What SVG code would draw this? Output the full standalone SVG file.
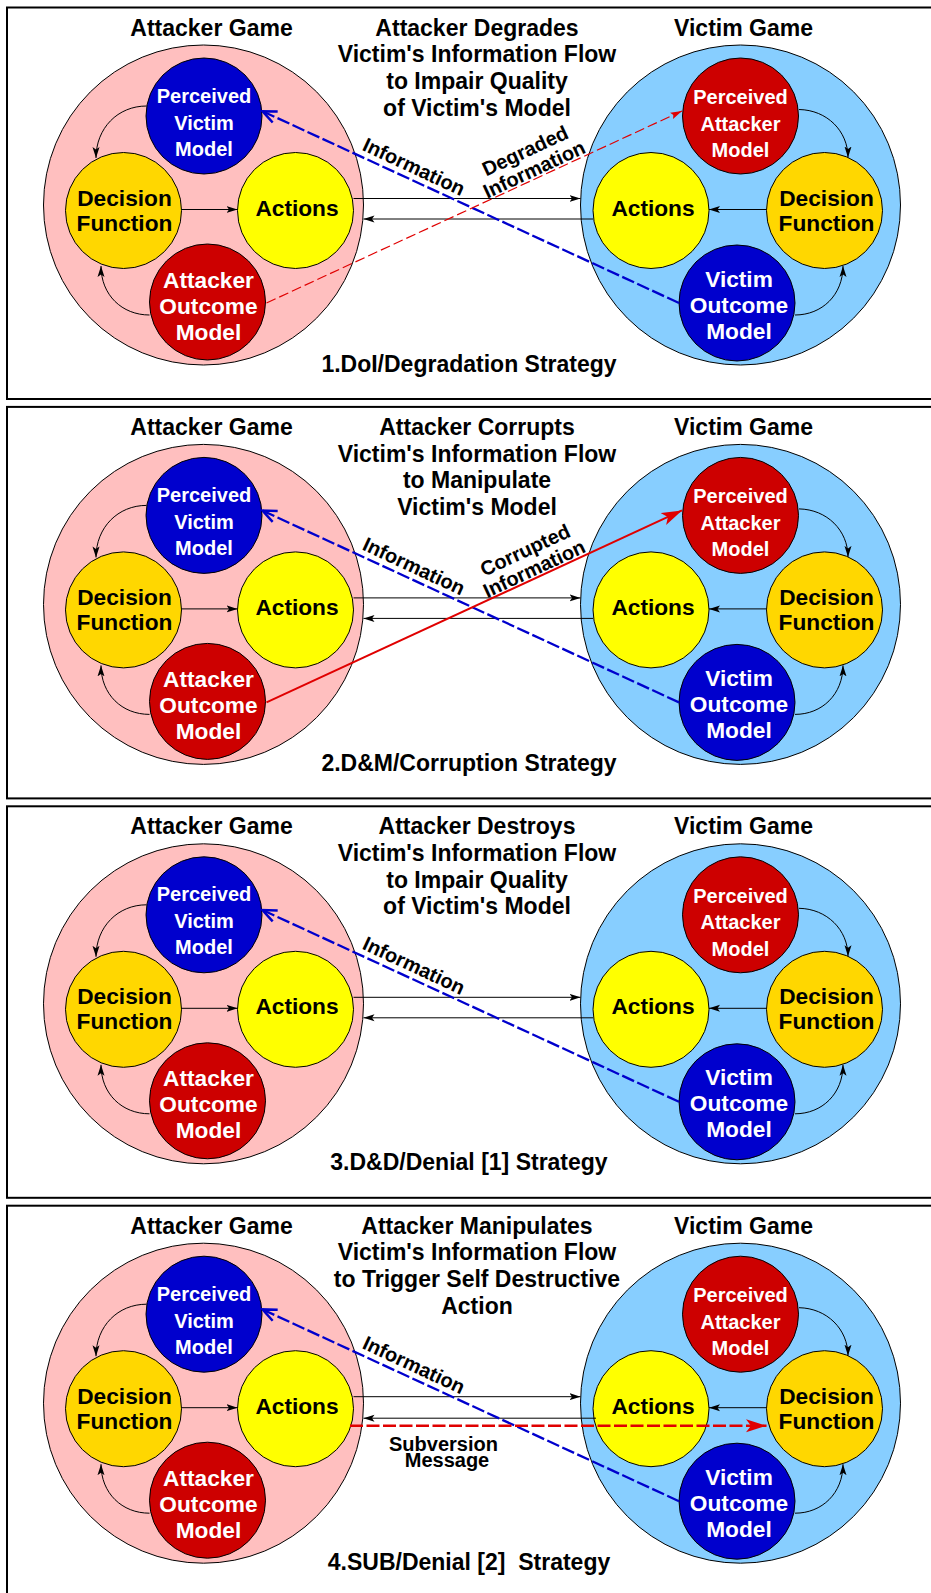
<svg xmlns="http://www.w3.org/2000/svg" width="931" height="1593" viewBox="0 0 931 1593">
<defs>
<style>
.frame{fill:none;stroke:#000;stroke-width:2}
.bigA{fill:#FFBFBF;stroke:#000;stroke-width:1}
.bigV{fill:#87CEFF;stroke:#000;stroke-width:1}
.blue{fill:#0000CD;stroke:#000;stroke-width:1}
.red{fill:#CD0000;stroke:#000;stroke-width:1}
.gold{fill:#FFD700;stroke:#000;stroke-width:1}
.yel{fill:#FFFF00;stroke:#000;stroke-width:1}
text{font-family:"Liberation Sans",Arial,Helvetica,sans-serif;font-weight:bold;text-anchor:middle;fill:#000}
.h{font-size:23px}
.n23{font-size:22.7px}
.n20{font-size:20px}
.w{fill:#fff}
.lab{font-size:20px}
.ar{fill:none;stroke:#000;stroke-width:1}
.info{fill:none;stroke:#0000CD;stroke-width:2.3;stroke-dasharray:13 3.5}
.deg{fill:none;stroke:#E00000;stroke-width:1.2;stroke-dasharray:10 4}
.cor{fill:none;stroke:#E00000;stroke-width:2}
.sub{fill:none;stroke:#E00000;stroke-width:2.5;stroke-dasharray:13 3.5}
</style>
<marker id="ahK" markerUnits="userSpaceOnUse" viewBox="0 0 12 8" markerWidth="12" markerHeight="8" refX="11" refY="4" orient="auto"><path d="M0,0.5 L11,4 L0,7.5 L2.5,4 z" fill="#000"/></marker>
<marker id="ahB" markerUnits="userSpaceOnUse" viewBox="-1 -1 19 16" markerWidth="19" markerHeight="16" refX="15.5" refY="7" orient="auto"><path d="M1,1 L15,7 L1,13" fill="none" stroke="#0000CD" stroke-width="2.5"/></marker>
<marker id="ahRs" markerUnits="userSpaceOnUse" viewBox="0 0 12 8" markerWidth="12" markerHeight="8" refX="11.5" refY="4" orient="auto"><path d="M0,0.5 L11.5,4 L0,7.5 L2,4 z" fill="#E00000"/></marker>
<marker id="ahRb" markerUnits="userSpaceOnUse" viewBox="0 0 21 14" markerWidth="21" markerHeight="14" refX="20.5" refY="7" orient="auto"><path d="M0,0.5 L20.5,7 L0,13.5 L5,7 z" fill="#E00000"/></marker>
</defs>

<!-- PANEL 1 -->
<g id="panel1">
<rect class="frame" x="7" y="7.5" width="930" height="391.5"/>
<g id="p1-title"><text class="h"><tspan x="477" y="35.5">Attacker Degrades</tspan><tspan x="477" y="62.3">Victim's Information Flow</tspan><tspan x="477" y="89">to Impair Quality</tspan><tspan x="477" y="115.7">of Victim's Model</tspan></text></g>
<g id="p1-attacker-game"><circle class="bigA" cx="203.5" cy="205" r="160"/><text class="h" x="211.5" y="35.5">Attacker Game</text></g>
<g id="p1-victim-game"><circle class="bigV" cx="740.5" cy="205" r="160"/><text class="h" x="743.5" y="35.5">Victim Game</text></g>
<g id="p1-perceived-victim-model"><circle class="blue" cx="204" cy="116" r="58"/><text class="n20 w"><tspan x="204" y="102.7">Perceived</tspan><tspan x="204" y="129.7">Victim</tspan><tspan x="204" y="155.5">Model</tspan></text></g>
<g id="p1-attacker-decision"><circle class="gold" cx="123.5" cy="210.5" r="58"/><text class="n23"><tspan x="124.5" y="205.7">Decision</tspan><tspan x="124.5" y="230.7">Function</tspan></text></g>
<g id="p1-attacker-actions"><circle class="yel" cx="295.5" cy="210.5" r="58"/><text class="n23" x="297" y="215.7">Actions</text></g>
<g id="p1-attacker-outcome-model"><circle class="red" cx="207.5" cy="302" r="58"/><text class="n23 w"><tspan x="208.5" y="287.5">Attacker</tspan><tspan x="208.5" y="313.5">Outcome</tspan><tspan x="208.5" y="339.5">Model</tspan></text></g>
<g id="p1-perceived-attacker-model"><circle class="red" cx="740.5" cy="116" r="58"/><text class="n20 w"><tspan x="740.5" y="104">Perceived</tspan><tspan x="740.5" y="130.5">Attacker</tspan><tspan x="740.5" y="157">Model</tspan></text></g>
<g id="p1-victim-actions"><circle class="yel" cx="651" cy="210.5" r="58"/><text class="n23" x="653" y="215.5">Actions</text></g>
<g id="p1-victim-decision"><circle class="gold" cx="824.5" cy="210.5" r="58"/><text class="n23"><tspan x="826.5" y="205.5">Decision</tspan><tspan x="826.5" y="230.7">Function</tspan></text></g>
<g id="p1-victim-outcome-model"><circle class="blue" cx="737" cy="303" r="58"/><text class="n23 w"><tspan x="739" y="286.5">Victim</tspan><tspan x="739" y="312.7">Outcome</tspan><tspan x="739" y="338.5">Model</tspan></text></g>
<g id="p1-connectors">
<path class="ar" d="M181.5,209.5 L237.5,209.5" marker-end="url(#ahK)"/>
<path class="ar" d="M146.5,106 C118,106 96,128 96,158" marker-end="url(#ahK)"/>
<path class="ar" d="M149.5,315 C122,315 101,295 101,266" marker-end="url(#ahK)"/>
<path class="ar" d="M766.5,209.5 L709,209.5" marker-end="url(#ahK)"/>
<path class="ar" d="M799,109.5 C827,110 848,131 848,157.5" marker-end="url(#ahK)"/>
<path class="ar" d="M795,315 C822,315 843,295 843,266" marker-end="url(#ahK)"/>
<path class="ar" d="M353.5,198.5 L580.5,198.5" marker-end="url(#ahK)"/>
<path class="ar" d="M593,219 L363.5,219" marker-end="url(#ahK)"/>
<path class="info" d="M679,303 L262,111" marker-end="url(#ahB)"/>
<path class="deg" d="M266.5,303 L682,111" marker-end="url(#ahRs)"/>
<text class="lab" transform="translate(411,173) rotate(25)">Information</text>
<text class="lab" transform="translate(528,157) rotate(-25)">Degraded</text>
<text class="lab" transform="translate(537,175.5) rotate(-25)">Information</text>
</g>
<g id="p1-caption"><text class="h" x="469" y="371.7">1.DoI/Degradation Strategy</text></g>
</g>

<!-- PANEL 2 -->
<g id="panel2" transform="translate(0,399.4)">
<rect class="frame" x="7" y="7.5" width="930" height="391.5"/>
<g id="p2-title"><text class="h"><tspan x="477" y="35.5">Attacker Corrupts</tspan><tspan x="477" y="62.3">Victim's Information Flow</tspan><tspan x="477" y="89">to Manipulate</tspan><tspan x="477" y="115.7">Victim's Model</tspan></text></g>
<g id="p2-attacker-game"><circle class="bigA" cx="203.5" cy="205" r="160"/><text class="h" x="211.5" y="35.5">Attacker Game</text></g>
<g id="p2-victim-game"><circle class="bigV" cx="740.5" cy="205" r="160"/><text class="h" x="743.5" y="35.5">Victim Game</text></g>
<g id="p2-perceived-victim-model"><circle class="blue" cx="204" cy="116" r="58"/><text class="n20 w"><tspan x="204" y="102.7">Perceived</tspan><tspan x="204" y="129.7">Victim</tspan><tspan x="204" y="155.5">Model</tspan></text></g>
<g id="p2-attacker-decision"><circle class="gold" cx="123.5" cy="210.5" r="58"/><text class="n23"><tspan x="124.5" y="205.7">Decision</tspan><tspan x="124.5" y="230.7">Function</tspan></text></g>
<g id="p2-attacker-actions"><circle class="yel" cx="295.5" cy="210.5" r="58"/><text class="n23" x="297" y="215.7">Actions</text></g>
<g id="p2-attacker-outcome-model"><circle class="red" cx="207.5" cy="302" r="58"/><text class="n23 w"><tspan x="208.5" y="287.5">Attacker</tspan><tspan x="208.5" y="313.5">Outcome</tspan><tspan x="208.5" y="339.5">Model</tspan></text></g>
<g id="p2-perceived-attacker-model"><circle class="red" cx="740.5" cy="116" r="58"/><text class="n20 w"><tspan x="740.5" y="104">Perceived</tspan><tspan x="740.5" y="130.5">Attacker</tspan><tspan x="740.5" y="157">Model</tspan></text></g>
<g id="p2-victim-actions"><circle class="yel" cx="651" cy="210.5" r="58"/><text class="n23" x="653" y="215.5">Actions</text></g>
<g id="p2-victim-decision"><circle class="gold" cx="824.5" cy="210.5" r="58"/><text class="n23"><tspan x="826.5" y="205.5">Decision</tspan><tspan x="826.5" y="230.7">Function</tspan></text></g>
<g id="p2-victim-outcome-model"><circle class="blue" cx="737" cy="303" r="58"/><text class="n23 w"><tspan x="739" y="286.5">Victim</tspan><tspan x="739" y="312.7">Outcome</tspan><tspan x="739" y="338.5">Model</tspan></text></g>
<g id="p2-connectors">
<path class="ar" d="M181.5,209.5 L237.5,209.5" marker-end="url(#ahK)"/>
<path class="ar" d="M146.5,106 C118,106 96,128 96,158" marker-end="url(#ahK)"/>
<path class="ar" d="M149.5,315 C122,315 101,295 101,266" marker-end="url(#ahK)"/>
<path class="ar" d="M766.5,209.5 L709,209.5" marker-end="url(#ahK)"/>
<path class="ar" d="M799,109.5 C827,110 848,131 848,157.5" marker-end="url(#ahK)"/>
<path class="ar" d="M795,315 C822,315 843,295 843,266" marker-end="url(#ahK)"/>
<path class="ar" d="M353.5,198.5 L580.5,198.5" marker-end="url(#ahK)"/>
<path class="ar" d="M593,219 L363.5,219" marker-end="url(#ahK)"/>
<path class="info" d="M679,303 L262,111" marker-end="url(#ahB)"/>
<path class="cor" d="M266.5,303 L682,111" marker-end="url(#ahRb)"/>
<text class="lab" transform="translate(411,173) rotate(25)">Information</text>
<text class="lab" transform="translate(528,157) rotate(-25)">Corrupted</text>
<text class="lab" transform="translate(537,175.5) rotate(-25)">Information</text>
</g>
<g id="p2-caption"><text class="h" x="469" y="371.7">2.D&amp;M/Corruption Strategy</text></g>
</g>

<!-- PANEL 3 -->
<g id="panel3" transform="translate(0,798.8)">
<rect class="frame" x="7" y="7.5" width="930" height="391.5"/>
<g id="p3-title"><text class="h"><tspan x="477" y="35.5">Attacker Destroys</tspan><tspan x="477" y="62.3">Victim's Information Flow</tspan><tspan x="477" y="89">to Impair Quality</tspan><tspan x="477" y="115.7">of Victim's Model</tspan></text></g>
<g id="p3-attacker-game"><circle class="bigA" cx="203.5" cy="205" r="160"/><text class="h" x="211.5" y="35.5">Attacker Game</text></g>
<g id="p3-victim-game"><circle class="bigV" cx="740.5" cy="205" r="160"/><text class="h" x="743.5" y="35.5">Victim Game</text></g>
<g id="p3-perceived-victim-model"><circle class="blue" cx="204" cy="116" r="58"/><text class="n20 w"><tspan x="204" y="102.7">Perceived</tspan><tspan x="204" y="129.7">Victim</tspan><tspan x="204" y="155.5">Model</tspan></text></g>
<g id="p3-attacker-decision"><circle class="gold" cx="123.5" cy="210.5" r="58"/><text class="n23"><tspan x="124.5" y="205.7">Decision</tspan><tspan x="124.5" y="230.7">Function</tspan></text></g>
<g id="p3-attacker-actions"><circle class="yel" cx="295.5" cy="210.5" r="58"/><text class="n23" x="297" y="215.7">Actions</text></g>
<g id="p3-attacker-outcome-model"><circle class="red" cx="207.5" cy="302" r="58"/><text class="n23 w"><tspan x="208.5" y="287.5">Attacker</tspan><tspan x="208.5" y="313.5">Outcome</tspan><tspan x="208.5" y="339.5">Model</tspan></text></g>
<g id="p3-perceived-attacker-model"><circle class="red" cx="740.5" cy="116" r="58"/><text class="n20 w"><tspan x="740.5" y="104">Perceived</tspan><tspan x="740.5" y="130.5">Attacker</tspan><tspan x="740.5" y="157">Model</tspan></text></g>
<g id="p3-victim-actions"><circle class="yel" cx="651" cy="210.5" r="58"/><text class="n23" x="653" y="215.5">Actions</text></g>
<g id="p3-victim-decision"><circle class="gold" cx="824.5" cy="210.5" r="58"/><text class="n23"><tspan x="826.5" y="205.5">Decision</tspan><tspan x="826.5" y="230.7">Function</tspan></text></g>
<g id="p3-victim-outcome-model"><circle class="blue" cx="737" cy="303" r="58"/><text class="n23 w"><tspan x="739" y="286.5">Victim</tspan><tspan x="739" y="312.7">Outcome</tspan><tspan x="739" y="338.5">Model</tspan></text></g>
<g id="p3-connectors">
<path class="ar" d="M181.5,209.5 L237.5,209.5" marker-end="url(#ahK)"/>
<path class="ar" d="M146.5,106 C118,106 96,128 96,158" marker-end="url(#ahK)"/>
<path class="ar" d="M149.5,315 C122,315 101,295 101,266" marker-end="url(#ahK)"/>
<path class="ar" d="M766.5,209.5 L709,209.5" marker-end="url(#ahK)"/>
<path class="ar" d="M799,109.5 C827,110 848,131 848,157.5" marker-end="url(#ahK)"/>
<path class="ar" d="M795,315 C822,315 843,295 843,266" marker-end="url(#ahK)"/>
<path class="ar" d="M353.5,198.5 L580.5,198.5" marker-end="url(#ahK)"/>
<path class="ar" d="M593,219 L363.5,219" marker-end="url(#ahK)"/>
<path class="info" d="M679,303 L262,111" marker-end="url(#ahB)"/>
<text class="lab" transform="translate(411,173) rotate(25)">Information</text>
</g>
<g id="p3-caption"><text class="h" x="469" y="371.7">3.D&amp;D/Denial [1] Strategy</text></g>
</g>

<!-- PANEL 4 -->
<g id="panel4" transform="translate(0,1198.2)">
<rect class="frame" x="7" y="7.5" width="930" height="391.5"/>
<g id="p4-title"><text class="h"><tspan x="477" y="35.5">Attacker Manipulates</tspan><tspan x="477" y="62.3">Victim's Information Flow</tspan><tspan x="477" y="89">to Trigger Self Destructive</tspan><tspan x="477" y="115.7">Action</tspan></text></g>
<g id="p4-attacker-game"><circle class="bigA" cx="203.5" cy="205" r="160"/><text class="h" x="211.5" y="35.5">Attacker Game</text></g>
<g id="p4-victim-game"><circle class="bigV" cx="740.5" cy="205" r="160"/><text class="h" x="743.5" y="35.5">Victim Game</text></g>
<g id="p4-perceived-victim-model"><circle class="blue" cx="204" cy="116" r="58"/><text class="n20 w"><tspan x="204" y="102.7">Perceived</tspan><tspan x="204" y="129.7">Victim</tspan><tspan x="204" y="155.5">Model</tspan></text></g>
<g id="p4-attacker-decision"><circle class="gold" cx="123.5" cy="210.5" r="58"/><text class="n23"><tspan x="124.5" y="205.7">Decision</tspan><tspan x="124.5" y="230.7">Function</tspan></text></g>
<g id="p4-attacker-actions"><circle class="yel" cx="295.5" cy="210.5" r="58"/><text class="n23" x="297" y="215.7">Actions</text></g>
<g id="p4-attacker-outcome-model"><circle class="red" cx="207.5" cy="302" r="58"/><text class="n23 w"><tspan x="208.5" y="287.5">Attacker</tspan><tspan x="208.5" y="313.5">Outcome</tspan><tspan x="208.5" y="339.5">Model</tspan></text></g>
<g id="p4-perceived-attacker-model"><circle class="red" cx="740.5" cy="116" r="58"/><text class="n20 w"><tspan x="740.5" y="104">Perceived</tspan><tspan x="740.5" y="130.5">Attacker</tspan><tspan x="740.5" y="157">Model</tspan></text></g>
<g id="p4-victim-actions"><circle class="yel" cx="651" cy="210.5" r="58"/><text class="n23" x="653" y="215.5">Actions</text></g>
<g id="p4-victim-decision"><circle class="gold" cx="824.5" cy="210.5" r="58"/><text class="n23"><tspan x="826.5" y="205.5">Decision</tspan><tspan x="826.5" y="230.7">Function</tspan></text></g>
<g id="p4-victim-outcome-model"><circle class="blue" cx="737" cy="303" r="58"/><text class="n23 w"><tspan x="739" y="286.5">Victim</tspan><tspan x="739" y="312.7">Outcome</tspan><tspan x="739" y="338.5">Model</tspan></text></g>
<g id="p4-connectors">
<path class="ar" d="M181.5,209.5 L237.5,209.5" marker-end="url(#ahK)"/>
<path class="ar" d="M146.5,106 C118,106 96,128 96,158" marker-end="url(#ahK)"/>
<path class="ar" d="M149.5,315 C122,315 101,295 101,266" marker-end="url(#ahK)"/>
<path class="ar" d="M766.5,209.5 L709,209.5" marker-end="url(#ahK)"/>
<path class="ar" d="M799,109.5 C827,110 848,131 848,157.5" marker-end="url(#ahK)"/>
<path class="ar" d="M795,315 C822,315 843,295 843,266" marker-end="url(#ahK)"/>
<path class="ar" d="M353.5,198.5 L580.5,198.5" marker-end="url(#ahK)"/>
<path class="ar" d="M596,220 L363.5,220" marker-end="url(#ahK)"/>
<path class="info" d="M679,303 L262,111" marker-end="url(#ahB)"/>
<path class="sub" d="M350,227.5 L766.5,227.5" marker-end="url(#ahRb)"/>
<text class="lab" transform="translate(411,173) rotate(25)">Information</text>
<text class="lab"><tspan x="443.5" y="252.5">Subversion</tspan><tspan x="447" y="268.5">Message</tspan></text>
</g>
<g id="p4-caption"><text class="h" x="469" y="371.7" style="white-space:pre">4.SUB/Denial [2]  Strategy</text></g>
</g>
</svg>
